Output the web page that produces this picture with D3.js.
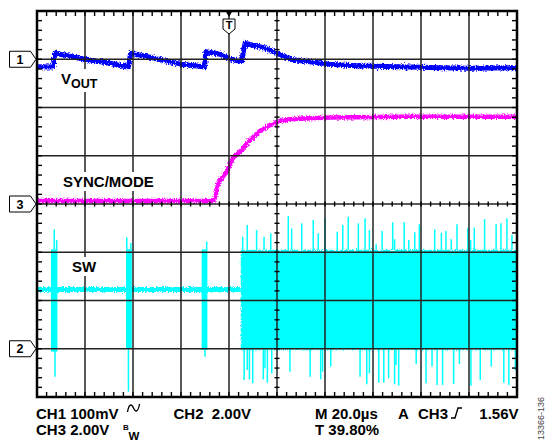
<!DOCTYPE html>
<html>
<head>
<meta charset="utf-8">
<title>SYNC/MODE transition scope shot</title>
<script src="https://cdn.jsdelivr.net/npm/d3@7"></script>
<style>
  body { margin: 0; background: #fff; }
  svg { display: block; font-family: "Liberation Sans", Arial, sans-serif; }
</style>
</head>
<body>
<div id="scope"></div>
<script>
// time axis in µs, 20 µs/div, trigger at 39.80 %
const timeDomain = [-80, 120];

// CH1 VOUT (AC coupled), [µs, mV]
const vout = [
  [-80, -15.4], [-73.3, -16.1], [-72.5, 13.0], [-70.4, 10.3], [-60, -0.1],
  [-49.6, -8.4], [-42.9, -15.4], [-41.9, -15.4], [-41.0, 12.3], [-32.9, 4.0],
  [-20, -10.5], [-10.8, -15.4], [-10.2, -15.4], [-9.6, 15.6], [-3.75, 10.3],
  [0, 2.0], [4.6, -4.7], [5.2, -4.7], [6.7, 33.1], [8.75, 30.6], [15, 23.3],
  [20, 12.3], [25.4, -0.1], [33.75, -5.1], [42.1, -10.5], [54.6, -14.0],
  [71.25, -15.4], [87.9, -17.5], [100.4, -18.8], [120, -17.5]
];

// CH3 SYNC/MODE, [µs, V]
const sync = [
  [-80, 0.12], [-6.5, 0.12], [-5.6, 0.33], [-4.6, 0.86], [-2.9, 1.08],
  [-1.0, 1.34], [1.7, 1.91], [4.6, 2.17], [8.75, 2.65], [12.9, 3.03],
  [17.1, 3.27], [21.25, 3.44], [25.4, 3.51], [33.75, 3.55], [42.1, 3.59],
  [71.25, 3.62], [120, 3.62]
];

// CH2 SW, [µs, V]
const swIdle = [[-80, 2.46], [4.9, 2.46]];
const swBursts = [
  { t0: -74.2, t1: -71.5, lo: -0.12, hi: 4.12 },
  { t0: -42.9, t1: -40.5, lo: 0.0, hi: 4.12 },
  { t0: -11.4, t1: -9.0, lo: -0.05, hi: 4.12 }
];
const swSwitching = { t0: 4.9, t1: 120, lo: -0.03, hi: 4.1 };
const swUp = [
  [-72.8, 4.95], [-71.8, 4.51], [-42.6, 4.62], [-40.9, 4.38], [-9.3, 4.44],
  [5.7, 4.64], [7.6, 5.13], [11.5, 4.92], [14.6, 4.64], [17.4, 4.79],
  [24.7, 5.50], [26.1, 4.99], [30.3, 5.20], [35.1, 5.34], [37.2, 4.79],
  [40.0, 5.41], [45.1, 4.85], [47.4, 5.13], [49.7, 5.47], [53.9, 5.20],
  [56.7, 5.41], [58.5, 4.92], [61.3, 4.33], [63.8, 4.88], [68.2, 5.24],
  [69.0, 4.54], [73.0, 5.24], [74.9, 4.51], [77.4, 4.83], [79.3, 5.16],
  [85.7, 4.95], [88.5, 4.81], [90.4, 4.88], [92.6, 4.54], [95.0, 5.16],
  [99.5, 5.02], [100.7, 4.51], [102.2, 5.02], [106.5, 5.37], [111.3, 5.16],
  [113.3, 5.20], [115.8, 5.41], [117.9, 4.72]
];
const swDown = [
  [-72.5, -1.16], [-41.9, -1.78], [-10.0, -0.33],
  [6.3, -1.30], [7.6, -0.88], [8.5, -1.27], [9.9, -1.43], [14.3, -1.27],
  [15.0, -0.81], [16.0, -1.41], [17.8, -1.02], [25.4, -0.95], [33.8, -1.16],
  [38.2, -1.27], [39.0, -0.95], [42.4, -0.74], [54.6, -1.16], [57.4, -1.47],
  [58.5, -1.02], [62.4, -1.41], [64.5, -1.41], [66.5, -1.22], [69.0, -1.47],
  [69.6, -0.67], [70.7, -1.53], [78.0, -0.63], [82.1, -1.43], [84.6, -0.74],
  [86.7, -1.50], [89.0, -1.50], [93.6, -1.46], [96.0, -0.63], [100.8, -1.53],
  [104.7, -1.30], [109.3, -0.74], [114.5, -1.41], [116.6, -1.50], [119.3, -0.88]
];

// chart geometry
const width = 546, height = 444;
const plot = { left: 37, right: 517, top: 11, bottom: 397 };
const blue = "#0000ff", magenta = "#ff00ff", cyan = "#00ffff";

const x = d3.scaleLinear().domain(timeDomain).range([plot.left, plot.right]);
const yDiv = d3.scaleLinear().domain([-4, 4]).range([plot.bottom, plot.top]);
// per-channel scales: volts/div and ground marker position (in divisions)
const y1 = v => yDiv(3 + v / 100);   // CH1 100 mV/div
const y2 = v => yDiv(-3 + v / 2);    // CH2 2.00 V/div
const y3 = v => yDiv(v / 2);         // CH3 2.00 V/div

const svg = d3.select("#scope").append("svg")
    .attr("width", width)
    .attr("height", height);

// noisy look for the traces
const defs = svg.append("defs");
const rough = defs.append("filter").attr("id", "rough")
    .attr("filterUnits", "userSpaceOnUse")
    .attr("x", 0).attr("y", 0).attr("width", width).attr("height", height);
rough.append("feTurbulence").attr("type", "fractalNoise")
    .attr("baseFrequency", "0.9 0.6").attr("numOctaves", 2).attr("seed", 4)
    .attr("result", "noise");
rough.append("feDisplacementMap").attr("in", "SourceGraphic").attr("in2", "noise")
    .attr("scale", 5).attr("xChannelSelector", "R").attr("yChannelSelector", "G");

const traces = svg.append("g");

// CH2 SW
const sw = traces.append("g");
sw.append("path")
    .attr("d", d3.line().x(d => x(d[0])).y(d => y2(d[1]))(swIdle))
    .attr("fill", "none").attr("stroke", cyan).attr("stroke-width", 5)
    .attr("filter", "url(#rough)");
sw.selectAll(".burst").data(swBursts).enter().append("rect")
    .attr("class", "burst")
    .attr("x", d => x(d.t0))
    .attr("width", d => x(d.t1) - x(d.t0))
    .attr("y", d => y2(d.hi))
    .attr("height", d => y2(d.lo) - y2(d.hi))
    .attr("fill", cyan);
sw.append("rect")
    .attr("x", x(swSwitching.t0))
    .attr("width", x(swSwitching.t1) - x(swSwitching.t0))
    .attr("y", y2(swSwitching.hi))
    .attr("height", y2(swSwitching.lo) - y2(swSwitching.hi))
    .attr("fill", cyan)
    .attr("filter", "url(#rough)");
sw.selectAll(".up").data(swUp).enter().append("line")
    .attr("class", "up")
    .attr("x1", d => x(d[0])).attr("x2", d => x(d[0]))
    .attr("y1", y2(swSwitching.hi)).attr("y2", d => y2(d[1]))
    .attr("stroke", cyan).attr("stroke-width", 1.5);
sw.selectAll(".down").data(swDown).enter().append("line")
    .attr("class", "down")
    .attr("x1", d => x(d[0])).attr("x2", d => x(d[0]))
    .attr("y1", y2(0)).attr("y2", d => y2(d[1]))
    .attr("stroke", cyan).attr("stroke-width", 1.5);

// CH3 SYNC/MODE
traces.append("path")
    .attr("d", d3.line().x(d => x(d[0])).y(d => y3(d[1]))(sync))
    .attr("fill", "none").attr("stroke", magenta).attr("stroke-width", 4.5)
    .attr("stroke-linejoin", "round")
    .attr("filter", "url(#rough)");

// CH1 VOUT
traces.append("path")
    .attr("d", d3.line().x(d => x(d[0])).y(d => y1(d[1]))(vout))
    .attr("fill", "none").attr("stroke", blue).attr("stroke-width", 5)
    .attr("stroke-linejoin", "round")
    .attr("filter", "url(#rough)");

// graticule
const grid = svg.append("g").attr("stroke", "#222");
grid.selectAll(".vgrid").data(d3.range(-60, 120, 20)).enter().append("line")
    .attr("x1", d => x(d)).attr("x2", d => x(d))
    .attr("y1", plot.top).attr("y2", plot.bottom)
    .attr("stroke-width", 1.5);
grid.selectAll(".hgrid").data(d3.range(-3, 4, 1)).enter().append("line")
    .attr("y1", d => yDiv(d)).attr("y2", d => yDiv(d))
    .attr("x1", plot.left).attr("x2", plot.right)
    .attr("stroke-width", 1.5);

const minorT = d3.range(-80, 120.01, 4);
const minorV = d3.range(-4, 4.001, 0.2);
const ticks = svg.append("g").attr("stroke", "#000").attr("stroke-width", 1.4);
minorT.forEach(t => {
  ticks.append("line").attr("x1", x(t)).attr("x2", x(t)).attr("y1", plot.top).attr("y2", plot.top + 5);
  ticks.append("line").attr("x1", x(t)).attr("x2", x(t)).attr("y1", plot.bottom).attr("y2", plot.bottom - 5);
  ticks.append("line").attr("x1", x(t)).attr("x2", x(t)).attr("y1", yDiv(0) - 2.5).attr("y2", yDiv(0) + 2.5);
});
minorV.forEach(v => {
  ticks.append("line").attr("y1", yDiv(v)).attr("y2", yDiv(v)).attr("x1", plot.left).attr("x2", plot.left + 5);
  ticks.append("line").attr("y1", yDiv(v)).attr("y2", yDiv(v)).attr("x1", plot.right).attr("x2", plot.right - 5);
  ticks.append("line").attr("y1", yDiv(v)).attr("y2", yDiv(v)).attr("x1", x(20) - 2.5).attr("x2", x(20) + 2.5);
});

svg.append("rect")
    .attr("x", plot.left).attr("y", plot.top)
    .attr("width", plot.right - plot.left).attr("height", plot.bottom - plot.top)
    .attr("fill", "none").attr("stroke", "#000").attr("stroke-width", 2.5);

// trace labels with white backing
function label(px, py, parts) {
  const g = svg.append("g");
  const bg = g.append("rect").attr("fill", "#fff");
  const t = g.append("text").attr("x", px).attr("y", py)
      .attr("font-weight", "bold").attr("font-size", 15).attr("fill", "#000");
  parts.forEach(p => t.append("tspan").text(p.text)
      .attr("font-size", p.size || 15).attr("dy", p.dy || 0));
  const b = t.node().getBBox();
  bg.attr("x", b.x - 3).attr("y", b.y - 1).attr("width", b.width + 6).attr("height", b.height + 2);
}
label(61, 84, [{ text: "V" }, { text: "OUT", size: 12.5, dy: 4 }]);
label(63, 187, [{ text: "SYNC/MODE" }]);
label(72, 272, [{ text: "SW" }]);

// channel ground markers
const markers = [{ name: "1", y: y1(0) }, { name: "3", y: y3(0) }, { name: "2", y: y2(0) }];
const mk = svg.selectAll(".marker").data(markers).enter().append("g").attr("class", "marker");
mk.append("path")
    .attr("d", d => `M9.5,${d.y - 8}H30.5L36,${d.y}L30.5,${d.y + 8}H9.5Z`)
    .attr("fill", "#fff").attr("stroke", "#000").attr("stroke-width", 1);
mk.append("text").attr("x", 20).attr("y", d => d.y + 4.5)
    .attr("text-anchor", "middle").attr("font-weight", "bold").attr("font-size", 12.5)
    .text(d => d.name);

// trigger position marker
const tx = x(0);
svg.append("path").attr("d", `M${tx - 3.5},${plot.top}H${tx + 3.5}L${tx},${plot.top + 6}Z`).attr("fill", "#000");
svg.append("path").attr("d", `M${tx - 6},19H${tx + 6}V29L${tx},34L${tx - 6},29Z`)
    .attr("fill", "#fff").attr("stroke", "#000").attr("stroke-width", 1);
svg.append("text").attr("x", tx).attr("y", 29).attr("text-anchor", "middle")
    .attr("font-weight", "bold").attr("font-size", 11).text("T");

// readout
const ro = svg.append("g").attr("font-weight", "bold").attr("font-size", 15).attr("fill", "#000");
ro.append("text").attr("x", 36).attr("y", 418.5).text("CH1 100mV");
ro.append("text").attr("x", 173.5).attr("y", 418.5).attr("xml:space", "preserve").text("CH2  2.00V");
ro.append("text").attr("x", 36).attr("y", 435).text("CH3 2.00V");
ro.append("text").attr("x", 123).attr("y", 430).attr("font-size", 8).text("B");
ro.append("text").attr("x", 128.5).attr("y", 440).attr("font-size", 11.5).text("W");
ro.append("text").attr("x", 315).attr("y", 418.5).text("M 20.0µs");
ro.append("text").attr("x", 398).attr("y", 418.5).text("A");
ro.append("text").attr("x", 418).attr("y", 418.5).text("CH3");
ro.append("text").attr("x", 518.5).attr("y", 418.5).attr("text-anchor", "end").text("1.56V");
ro.append("text").attr("x", 315).attr("y", 435).text("T 39.80%");
// AC coupling and rising edge symbols
svg.append("path").attr("d", "M127.5,412 C129,403.5 131.5,403.5 133.5,408 C135.5,412.5 138,412.5 139.5,404")
    .attr("fill", "none").attr("stroke", "#000").attr("stroke-width", 1.3);
svg.append("path").attr("d", "M451,418H455L458,408H462")
    .attr("fill", "none").attr("stroke", "#000").attr("stroke-width", 1.4);

svg.append("text")
    .attr("transform", "translate(544,440) rotate(-90)")
    .attr("font-size", 9).attr("fill", "#444").text("13366-136");
</script>
</body>
</html>
